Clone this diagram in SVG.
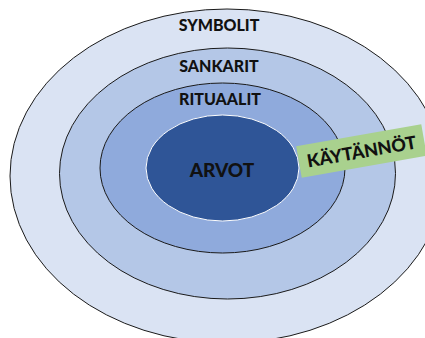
<svg xmlns="http://www.w3.org/2000/svg" width="425" height="338" viewBox="0 0 425 338">
<style>
.ring{stroke:#1a1a1a;stroke-width:1}
.lbl{font-family:Lato,"Liberation Sans",sans-serif;font-weight:900;fill:#111;text-anchor:middle}
</style>
<rect width="425" height="338" fill="#ffffff"/>
<g id="symbolit">
<ellipse class="ring" cx="227" cy="176" rx="217" ry="167" fill="#dae3f3"/>
<text class="lbl" x="219" y="31" font-size="16">SYMBOLIT</text>
</g>
<g id="sankarit">
<ellipse class="ring" cx="227.5" cy="173.5" rx="168" ry="125.5" fill="#b4c7e7"/>
<text class="lbl" x="219" y="72" font-size="16">SANKARIT</text>
</g>
<g id="rituaalit">
<ellipse class="ring" cx="222.5" cy="168" rx="122.5" ry="85" fill="#8faadc"/>
<text class="lbl" x="220" y="105" font-size="16">RITUAALIT</text>
</g>
<g id="arvot">
<ellipse cx="222.5" cy="168" rx="76.5" ry="53" fill="#2f5597" stroke="#ffffff" stroke-width="1"/>
<text class="lbl" x="222" y="177" font-size="19">ARVOT</text>
</g>
<g id="kaytannot" transform="translate(361.5,151) rotate(-10)">
<rect x="-63.5" y="-16" width="127" height="32" fill="#a9d18e"/>
<text class="lbl" x="0" y="7" font-size="18">KÄYTÄNNÖT</text>
</g>
<g id="connectors"/>
</svg>
